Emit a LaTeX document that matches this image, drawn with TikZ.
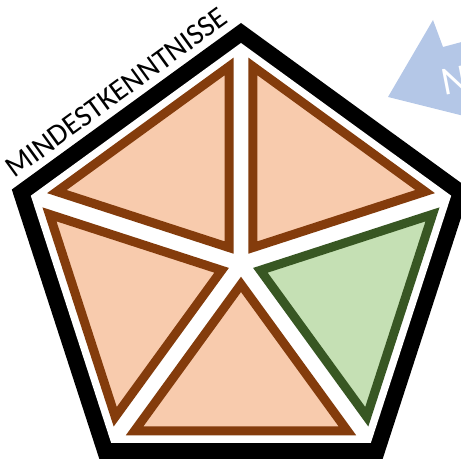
\documentclass[tikz,border=0pt]{standalone}
\usepackage{fontspec}
\setmainfont{Carlito}
\usepackage{tikz}
\usetikzlibrary{calc}
\definecolor{peach}{HTML}{F8CBAD}
\definecolor{rust}{HTML}{843C0C}
\definecolor{leaf}{HTML}{C5E0B4}
\definecolor{moss}{HTML}{385723}
\definecolor{sky}{HTML}{B4C7E7}

\begin{document}
\begin{tikzpicture}[
    x=1pt, y=1pt,
    tri/.style={draw=rust, fill=peach, line width=9pt},
    greentri/.style={tri, draw=moss, fill=leaf},
    title/.style={font=\fontsize{30}{30}\selectfont, inner sep=0pt}
]
\useasboundingbox (-241,-197) rectangle (220,264);
\begin{scope}
\clip (-241,-197) rectangle (220,264);
\coordinate (o) at (0,0);
% frame
\fill[black] (90:241) -- (162:241) -- (234:241) -- (306:241) -- (18:241) -- cycle;
\fill[white] (90:221) -- (162:221) -- (234:221) -- (306:221) -- (18:221) -- cycle;
% arrow (cut off)
\coordinate (tip) at (147,167);
\coordinate (head) at (192,244);
\coordinate (neck) at (202,217);
\fill[sky] (tip) -- (head) -- (neck) -- ($(neck)+(15:100)$) -- ($(tip)+(-14:150)$) -- cycle;
\node[font=\fontsize{40}{40}\selectfont, text=white, inner sep=0pt, rotate=11, anchor=base west] (arrowtxt) at (203,168) {N};
\end{scope}
% triangles
\foreach \a in {90,162,234,18} {
  \coordinate (c) at ({\a+36}:112.6);
  \draw[tri] ($(c)!0.819!(o)$) -- ($(c)!0.819!(\a:221)$) -- ($(c)!0.819!({\a+72}:221)$) -- cycle;
}
\coordinate (c) at (342:112.6);
\draw[greentri] ($(c)!0.819!(o)$) -- ($(c)!0.819!(306:221)$) -- ($(c)!0.819!(378:221)$) -- cycle;
% label
\node[title, rotate=36] (mindest) at (126:212) {MINDESTKENNTNISSE};
\end{tikzpicture}
\end{document}
